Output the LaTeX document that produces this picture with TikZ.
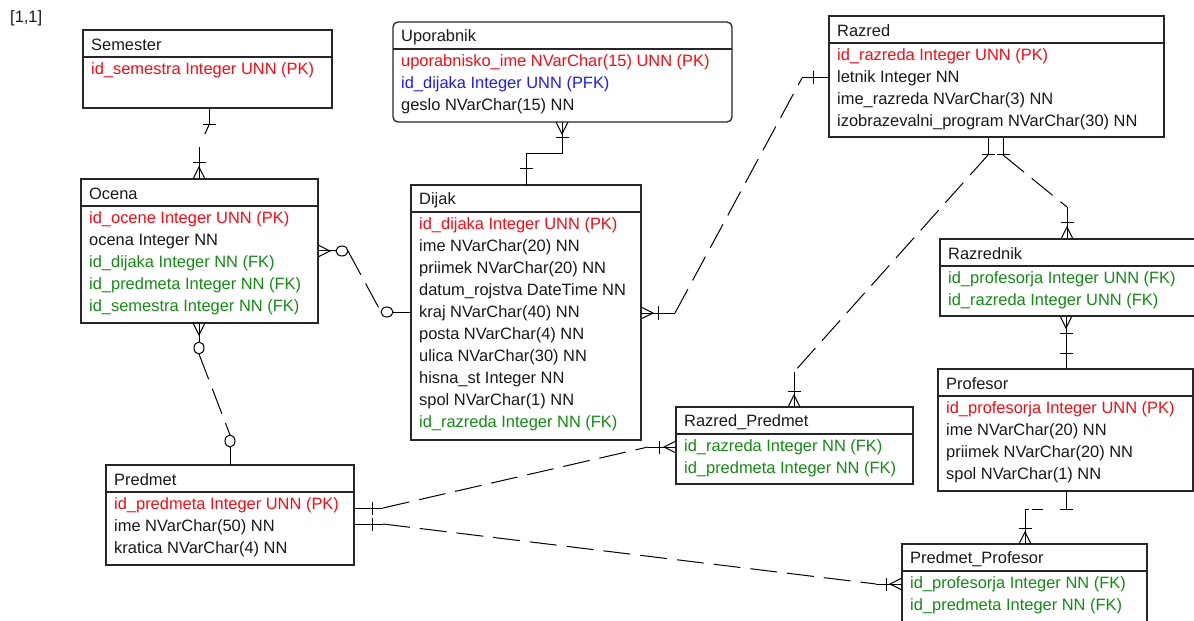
\documentclass[tikz,border=0pt]{standalone}
\usepackage{fontspec}
\setmainfont{Liberation Sans}
\usetikzlibrary{calc}
\definecolor{pkred}{RGB}{250,10,20}
\definecolor{fkgreen}{RGB}{20,140,20}
\definecolor{pfkblue}{RGB}{30,30,240}
\tikzset{
 ebox/.style={draw=black!85,line width=1.3bp,fill=white,inner sep=0pt,outer sep=0pt},
 eline/.style={draw=black!85,line width=1.3bp},
 etext/.style={inner sep=0pt,font=\fontsize{16.5}{20}\selectfont,text=black!90},
 conn/.style={draw=black,line width=1bp},
 rel/.style={conn,dash pattern=on 27bp off 10bp},
}
\newcommand{\ent}[7][]{%
 \node[ebox,#1,minimum width=#5 bp,minimum height=#6 bp,anchor=north west] (#2) at (#3,#4) {};
 \draw[eline] ($(#2.north west)+(0,27)$) -- ($(#2.north east)+(0,27)$);
 \node[etext,anchor=west] (#2-t) at ($(#2.north west)+(8,15)$) {#7};}
\newcommand{\erow}[4]{%
 \node[etext,text=#3,anchor=west] (#1-#2) at ($(#1.north west)+(8,{18.5+22*#2})$) {#4};}
\newcommand{\crowat}[2]{\draw[conn,shift={(#1)},rotate=#2] (0,-6) -- (12,0) -- (0,6);}
\newcommand{\barat}[3]{\draw[conn,shift={(#1)},rotate=#2] (#3,-6.5) -- (#3,6.5);}
\newcommand{\ringat}[3]{\draw[conn,fill=white,shift={(#1)},rotate=#2] (#3,0) ellipse [x radius=6bp,y radius=5bp];}
\begin{document}
\begin{tikzpicture}[x=1bp,y=-1bp]
\fill[white] (0,0) rectangle (1194,621);
\useasboundingbox (0,0) rectangle (1194,621);
\node[etext,anchor=west] (hdr) at (10,18) {[1,1]};

% ---------- entities ----------
\ent{sem}{83}{30}{249}{78}{Semester}
\erow{sem}{1}{pkred}{id\_semestra Integer UNN (PK)}

\ent[rounded corners=5bp]{upo}{393}{22}{339}{100}{Uporabnik}
\erow{upo}{1}{pkred}{uporabnisko\_ime NVarChar(15) UNN (PK)}
\erow{upo}{2}{pfkblue}{id\_dijaka Integer UNN (PFK)}
\erow{upo}{3}{black!90}{geslo NVarChar(15) NN}

\ent{raz}{829}{16}{335}{121}{Razred}
\erow{raz}{1}{pkred}{id\_razreda Integer UNN (PK)}
\erow{raz}{2}{black!90}{letnik Integer NN}
\erow{raz}{3}{black!90}{ime\_razreda NVarChar(3) NN}
\erow{raz}{4}{black!90}{izobrazevalni\_program NVarChar(30) NN}

\ent{oce}{81}{179}{237}{144}{Ocena}
\erow{oce}{1}{pkred}{id\_ocene Integer UNN (PK)}
\erow{oce}{2}{black!90}{ocena Integer NN}
\erow{oce}{3}{fkgreen}{id\_dijaka Integer NN (FK)}
\erow{oce}{4}{fkgreen}{id\_predmeta Integer NN (FK)}
\erow{oce}{5}{fkgreen}{id\_semestra Integer NN (FK)}

\ent{dij}{411}{185}{230}{255}{Dijak}
\erow{dij}{1}{pkred}{id\_dijaka Integer UNN (PK)}
\erow{dij}{2}{black!90}{ime NVarChar(20) NN}
\erow{dij}{3}{black!90}{priimek NVarChar(20) NN}
\erow{dij}{4}{black!90}{datum\_rojstva DateTime NN}
\erow{dij}{5}{black!90}{kraj NVarChar(40) NN}
\erow{dij}{6}{black!90}{posta NVarChar(4) NN}
\erow{dij}{7}{black!90}{ulica NVarChar(30) NN}
\erow{dij}{8}{black!90}{hisna\_st Integer NN}
\erow{dij}{9}{black!90}{spol NVarChar(1) NN}
\erow{dij}{10}{fkgreen}{id\_razreda Integer NN (FK)}

\ent{rn}{940}{239}{262}{77}{Razrednik}
\erow{rn}{1}{fkgreen}{id\_profesorja Integer UNN (FK)}
\erow{rn}{2}{fkgreen}{id\_razreda Integer UNN (FK)}

\ent{rp}{676}{407}{237}{77}{Razred\_Predmet}
\erow{rp}{1}{fkgreen}{id\_razreda Integer NN (FK)}
\erow{rp}{2}{fkgreen}{id\_predmeta Integer NN (FK)}

\ent{prof}{938}{369}{255}{122}{Profesor}
\erow{prof}{1}{pkred}{id\_profesorja Integer UNN (PK)}
\erow{prof}{2}{black!90}{ime NVarChar(20) NN}
\erow{prof}{3}{black!90}{priimek NVarChar(20) NN}
\erow{prof}{4}{black!90}{spol NVarChar(1) NN}

\ent{pp}{902}{544}{245}{100}{Predmet\_Profesor}
\erow{pp}{1}{fkgreen}{id\_profesorja Integer NN (FK)}
\erow{pp}{2}{fkgreen}{id\_predmeta Integer NN (FK)}

\ent{pred}{106}{465}{248}{100}{Predmet}
\erow{pred}{1}{pkred}{id\_predmeta Integer UNN (PK)}
\erow{pred}{2}{black!90}{ime NVarChar(50) NN}
\erow{pred}{3}{black!90}{kratica NVarChar(4) NN}

% ---------- 1: Semester - Ocena ----------
\coordinate (e1a) at ($(sem.south west)+(126,0)$);
\coordinate (e1b) at ($(oce.north west)+(118,0)$);
\draw[conn] (e1a) -- ++(0,17) coordinate (s1a);
\draw[conn] (e1b) -- ++(0,-32) coordinate (s1b);
\draw[conn,dash pattern=on 10bp off 14bp] (s1a) -- (s1b);
\barat{e1a}{-90}{17}
\barat{e1b}{90}{16}
\crowat{e1b}{90}

% ---------- 2: Ocena - Dijak ----------
\coordinate (e2a) at ($(oce.north east)+(0,72)$);
\coordinate (e2b) at ($(dij.north west)+(0,127)$);
\draw[conn] (e2a) -- ++(30,0) coordinate (s2a);
\draw[conn] (e2b) -- ++(-30,0) coordinate (s2b);
\draw[rel] (s2a) -- (s2b);
\crowat{e2a}{0}
\ringat{e2a}{0}{24}
\ringat{e2b}{180}{24}

% ---------- 3: Ocena - Predmet ----------
\coordinate (e3a) at ($(oce.south west)+(118,0)$);
\coordinate (e3b) at ($(pred.north west)+(124,0)$);
\draw[conn] (e3a) -- ++(0,31) coordinate (s3a);
\draw[conn] (e3b) -- ++(0,-30) coordinate (s3b);
\draw[rel] (s3a) -- (s3b);
\crowat{e3a}{-90}
\ringat{e3a}{-90}{25}
\ringat{e3b}{90}{24}

% ---------- 4: Uporabnik - Dijak ----------
\coordinate (e4a) at ($(upo.south west)+(169,0)$);
\coordinate (e4b) at ($(dij.north west)+(115,0)$);
\draw[conn] (e4a) -- ++(0,32) -| (e4b);
\crowat{e4a}{-90}
\barat{e4a}{-90}{16}
\barat{e4b}{90}{16}

% ---------- 5: Dijak - Razred ----------
\coordinate (e5a) at ($(dij.north east)+(0,128)$);
\coordinate (e5b) at ($(raz.north west)+(0,62)$);
\draw[conn] (e5a) -- ++(34,0) coordinate (s5a);
\draw[conn] (e5b) -- ++(-27,0) coordinate (s5b);
\draw[rel] (s5a) -- (s5b);
\crowat{e5a}{0}
\barat{e5a}{0}{17}
\barat{e5b}{180}{16}

% ---------- 6: Razred - Razred_Predmet ----------
\coordinate (e6a) at ($(raz.south west)+(159,0)$);
\coordinate (e6b) at ($(rp.north west)+(118,0)$);
\draw[conn] (e6a) -- ++(0,18) coordinate (s6a);
\draw[conn] (e6b) -- ++(0,-35) coordinate (s6b);
\draw[rel] (s6a) -- (s6b);
\barat{e6a}{-90}{18}
\barat{e6b}{90}{16}
\crowat{e6b}{90}

% ---------- 7: Razred - Razrednik ----------
\coordinate (e7a) at ($(raz.south west)+(174,0)$);
\coordinate (e7b) at ($(rn.north west)+(127,0)$);
\draw[conn] (e7a) -- ++(0,18) coordinate (s7a);
\draw[conn] (e7b) -- ++(0,-32) coordinate (s7b);
\draw[rel] (s7a) -- (s7b);
\barat{e7a}{-90}{18}
\barat{e7b}{90}{16}
\crowat{e7b}{90}

% ---------- 8: Razrednik - Profesor ----------
\coordinate (e8a) at ($(rn.south west)+(126,0)$);
\coordinate (e8b) at ($(prof.north west)+(128,0)$);
\draw[conn] (e8a) -- (e8b);
\crowat{e8a}{-90}
\barat{e8a}{-90}{17}
\barat{e8b}{90}{16}

% ---------- 9: Profesor - Predmet_Profesor ----------
\coordinate (e9a) at ($(prof.south west)+(128,0)$);
\coordinate (e9b) at ($(pp.north west)+(123,0)$);
\draw[conn] (e9a) -- ++(0,18) coordinate (s9a);
\draw[conn] (e9b) -- ++(0,-22) coordinate (s9b);
\draw[conn,dash pattern=on 0bp off 23bp on 11bp off 3bp on 30bp] (s9a) -- (s9a -| s9b) -- (s9b);
\barat{e9a}{-90}{18}
\barat{e9b}{90}{16}
\crowat{e9b}{90}

% ---------- 10: Predmet - Razred_Predmet ----------
\coordinate (e10a) at ($(pred.north east)+(0,43)$);
\coordinate (e10b) at ($(rp.north west)+(0,40)$);
\draw[conn] (e10a) -- ++(29,0) coordinate (s10a);
\draw[conn] (e10b) -- ++(-28,0) coordinate (s10b);
\draw[rel] (s10a) -- (s10b);
\barat{e10a}{0}{18}
\barat{e10b}{180}{17}
\crowat{e10b}{180}

% ---------- 11: Predmet - Predmet_Profesor ----------
\coordinate (e11a) at ($(pred.north east)+(0,59)$);
\coordinate (e11b) at ($(pp.north west)+(0,40)$);
\draw[conn] (e11a) -- ++(29,0) coordinate (s11a);
\draw[conn] (e11b) -- ++(-26,0) coordinate (s11b);
\draw[rel] (s11a) -- (s11b);
\barat{e11a}{0}{18}
\barat{e11b}{180}{16}
\crowat{e11b}{180}
\end{tikzpicture}
\end{document}
